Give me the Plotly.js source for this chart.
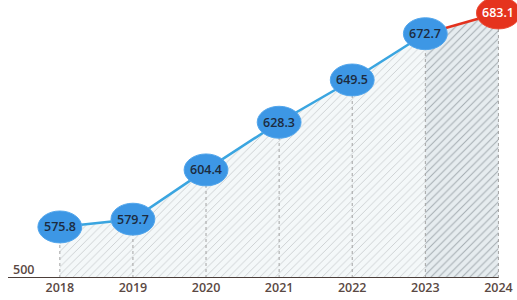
<!DOCTYPE html>
<html>
<head>
<meta charset="utf-8">
<script src="https://cdn.plot.ly/plotly-3.0.1.min.js"></script>
<style>html,body{margin:0;padding:0;background:#fff;}#chart{width:517px;height:300px;}</style>
</head>
<body>
<div id="chart"></div>
<script>
// Data
const years = [2018, 2019, 2020, 2021, 2022, 2023, 2024];
const values = [575.8, 579.7, 604.4, 628.3, 649.5, 672.7, 683.1];
const valueLabels = ['575.8', '579.7', '604.4', '628.3', '649.5', '672.7', '683.1'];
const xTickText = ['2018', '2019', '2020', '2021', '2022', '2023', '2024'];
const yTickText = ['500'];
const axisBase = 550.2; // broken-axis baseline (labelled 500)

const n = years.length;
const mainX = years.slice(0, n - 1), mainY = values.slice(0, n - 1);
const lastX = years.slice(n - 2), lastY = values.slice(n - 2);

const dropX = [], dropY = [];
years.forEach((yr, i) => { dropX.push(yr, yr, null); dropY.push(axisBase, values[i], null); });

const traces = [
  {
    x: mainX, y: mainY, type: 'scatter', mode: 'lines',
    line: {color: '#3aa5e0', width: 2.5},
    fill: 'tozeroy', fillcolor: '#f3f7f8',
    fillpattern: {shape: '/', size: 5.5, solidity: 0.14, fgcolor: '#c2c6c8', bgcolor: '#f4f8f9'},
    hoverinfo: 'skip'
  },
  {
    x: lastX, y: lastY, type: 'scatter', mode: 'lines',
    line: {color: '#e3321e', width: 2.5},
    fill: 'tozeroy', fillcolor: '#e4eaed',
    fillpattern: {shape: '/', size: 5.5, solidity: 0.18, fgcolor: '#a4acb1', bgcolor: '#e6ecef'},
    hoverinfo: 'skip'
  },
  {
    x: dropX, y: dropY, type: 'scatter', mode: 'lines',
    line: {color: '#a3a3a3', width: 1, dash: 'dot'},
    hoverinfo: 'skip'
  }
];

const rx = 0.3, ry = 8;
const shapes = years.map((yr, i) => ({
  type: 'circle', xref: 'x', yref: 'y', layer: 'above',
  x0: yr - rx, x1: yr + rx, y0: values[i] - ry, y1: values[i] + ry,
  fillcolor: i === n - 1 ? '#e5331d' : '#3d97e5',
  line: {color: i === n - 1 ? '#ec4a35' : '#52a6ec', width: 1}
}));
shapes.push({
  type: 'line', xref: 'paper', yref: 'y', layer: 'above',
  x0: 0, x1: (years[n - 1] - 2017.291) / (2024.254 - 2017.291), y0: axisBase, y1: axisBase,
  line: {color: '#4d3f3a', width: 2}
});

const annotations = years.map((yr, i) => ({
  x: yr, y: values[i], xref: 'x', yref: 'y', text: valueLabels[i], showarrow: false,
  font: {family: 'Open Sans, sans-serif', size: 12.5, weight: 600, color: i === n - 1 ? '#ffffff' : '#1c2b3f'}
}));

const layout = {
  width: 517, height: 300,
  margin: {l: 8, r: 0, t: 0, b: 22},
  paper_bgcolor: '#ffffff', plot_bgcolor: '#ffffff',
  showlegend: false,
  xaxis: {
    range: [2017.291, 2024.254], showgrid: false, zeroline: false, showline: false,
    tickvals: years, ticktext: xTickText, ticks: '', ticklabelstandoff: 0,
    tickfont: {family: 'Open Sans, sans-serif', size: 12.5, weight: 600, color: '#5a4843'}
  },
  yaxis: {
    range: [axisBase, 689.6], showgrid: false, zeroline: false, showline: false,
    tickvals: [axisBase], ticktext: yTickText, ticks: '', ticklabelposition: 'inside top',
    ticklabelstandoff: 2,
    tickfont: {family: 'Open Sans, sans-serif', size: 12.5, weight: 600, color: '#5a4843'}
  },
  shapes: shapes,
  annotations: annotations
};

Plotly.newPlot('chart', traces, layout, {displayModeBar: false, staticPlot: true});
</script>
</body>
</html>
